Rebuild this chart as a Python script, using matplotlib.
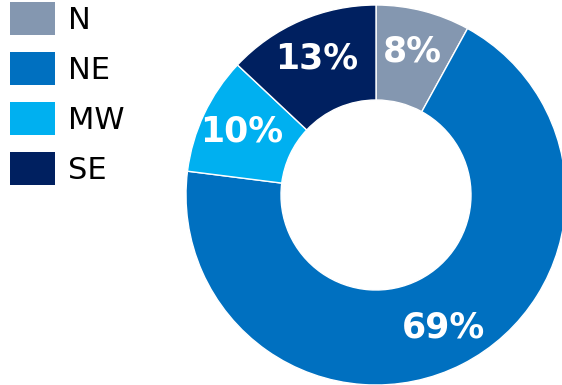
import matplotlib.pyplot as plt
from matplotlib.patches import Patch

regions = ['N', 'NE', 'MW', 'SE']
shares = [8, 69, 10, 13]
colors = ['#8497B0', '#0070C0', '#00B0F0', '#002060']

fig = plt.figure(figsize=(5.62, 3.85), dpi=100)

# donut on the right, partly running off the right edge
ax = fig.add_axes([186 / 562, 0.0, 380 / 562, 380 / 385])
wedges, texts, autotexts = ax.pie(
    shares, colors=colors, startangle=90, counterclock=False,
    autopct=lambda p: f'{p:.0f}%', pctdistance=0.78,
    wedgeprops=dict(width=0.5, edgecolor='white', linewidth=1),
    textprops=dict(color='white', fontsize=25, fontweight='bold'))
ax.set_xlim(-1, 1)
ax.set_ylim(-1, 1)
ax.set_aspect('equal')

handles = [Patch(facecolor=c, edgecolor='none') for c in colors]
fig.legend(handles, regions, loc='upper left', bbox_to_anchor=(10 / 562, 1 - 2 / 385),
           frameon=False, fontsize=22, handlelength=1.47, handleheight=1.285,
           labelspacing=0.56, handletextpad=0.42, borderaxespad=0.0,
           borderpad=0.0)

fig.savefig('out.png', dpi=100)
